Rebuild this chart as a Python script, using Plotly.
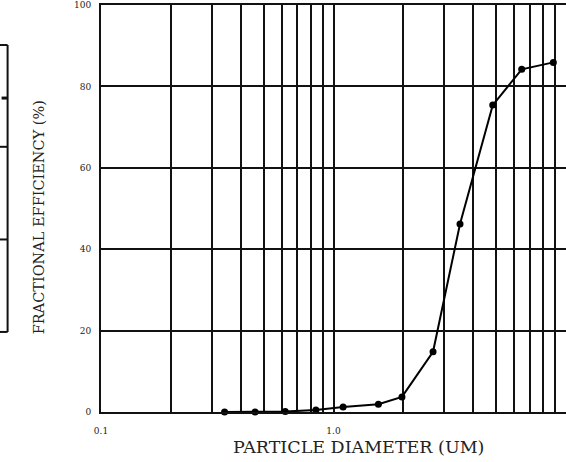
import plotly.graph_objects as go

# Data
diameter_um = [0.34, 0.46, 0.62, 0.84, 1.10, 1.56, 1.97, 2.68, 3.50, 4.84, 6.45, 8.82]
efficiency_pct = [0.0, 0.0, 0.1, 0.5, 1.2, 1.9, 3.7, 14.8, 46.2, 75.4, 84.2, 85.9]

x_grid_vals = [0.1, 0.2, 0.3, 0.4, 0.5, 0.6, 0.7, 0.8, 0.9,
               1, 2, 3, 4, 5, 6, 7, 8, 9, 10]
x_grid_text = ["0.1", "", "", "", "", "", "", "", "",
               "1.0", "", "", "", "", "", "", "", "", ""]
y_tick_vals = [0, 20, 40, 60, 80, 100]
y_tick_text = ["0", "20", "40", "60", "80", "100"]

x_title = "PARTICLE DIAMETER (UM)"
y_title = "FRACTIONAL EFFICIENCY (%)"

SERIF = "DejaVu Serif"

fig = go.Figure()
fig.add_trace(go.Scatter(
    x=diameter_um, y=efficiency_pct,
    mode="lines+markers",
    line=dict(color="black", width=2),
    marker=dict(color="black", size=7),
    showlegend=False, cliponaxis=False,
))

W, H = 566, 462
L, R, T, B = 100.5, 0, 5, 50.3
pw = W - L - R
ph = H - T - B

def px_x(x):
    return (x - L) / pw

def px_y(y):
    return (H - B - y) / ph

fig.update_layout(
    width=W, height=H,
    margin=dict(l=L, r=R, t=T, b=B, pad=0),
    paper_bgcolor="white", plot_bgcolor="white",
    font=dict(family=SERIF, color="black"),
    xaxis=dict(
        type="log", range=[-1, 1.0],
        tickvals=x_grid_vals, ticktext=x_grid_text,
        showgrid=True, gridcolor="#111", gridwidth=2,
        zeroline=False, showline=True, linecolor="#111", linewidth=2,
        mirror=True, ticks="",
        tickfont=dict(family=SERIF, size=9, color="#222"),
        ticklabelstandoff=9,
    ),
    yaxis=dict(
        range=[0, 100],
        tickvals=y_tick_vals, ticktext=y_tick_text,
        showgrid=True, gridcolor="#111", gridwidth=2,
        zeroline=False, showline=True, linecolor="#111", linewidth=2,
        ticks="",
        tickfont=dict(family=SERIF, size=9, color="#222"),
        ticklabelstandoff=6,
    ),
    annotations=[
        dict(text=x_title, xref="paper", yref="paper",
             x=px_x(358.5), y=px_y(447), xanchor="center", yanchor="middle",
             showarrow=False, font=dict(family=SERIF, size=17.5, color="#222")),
        dict(text=y_title, xref="paper", yref="paper",
             x=px_x(38.5), y=px_y(217), xanchor="center", yanchor="middle",
             textangle=-90, showarrow=False,
             font=dict(family=SERIF, size=14.5, color="#222")),
    ],
)

# Partial neighbouring frame at the far left edge of the reference
shapes = []
x0p, x1p = px_x(-2), px_x(7)
for yy in [45, 146.7, 239.3, 331.7]:
    shapes.append(dict(type="line", xref="paper", yref="paper",
                       x0=x0p, x1=x1p, y0=px_y(yy), y1=px_y(yy),
                       line=dict(color="#111", width=2)))
shapes.append(dict(type="line", xref="paper", yref="paper",
                   x0=x1p, x1=x1p, y0=px_y(45), y1=px_y(331.7),
                   line=dict(color="#111", width=2)))
shapes.append(dict(type="line", xref="paper", yref="paper",
                   x0=px_x(1), x1=px_x(7), y0=px_y(98), y1=px_y(98),
                   line=dict(color="#111", width=3)))
fig.update_layout(shapes=shapes)

fig.write_html(
    "out.html",
    config={"displayModeBar": False},
    post_script="document.body.style.margin='0';document.body.style.overflow='hidden';",
)
